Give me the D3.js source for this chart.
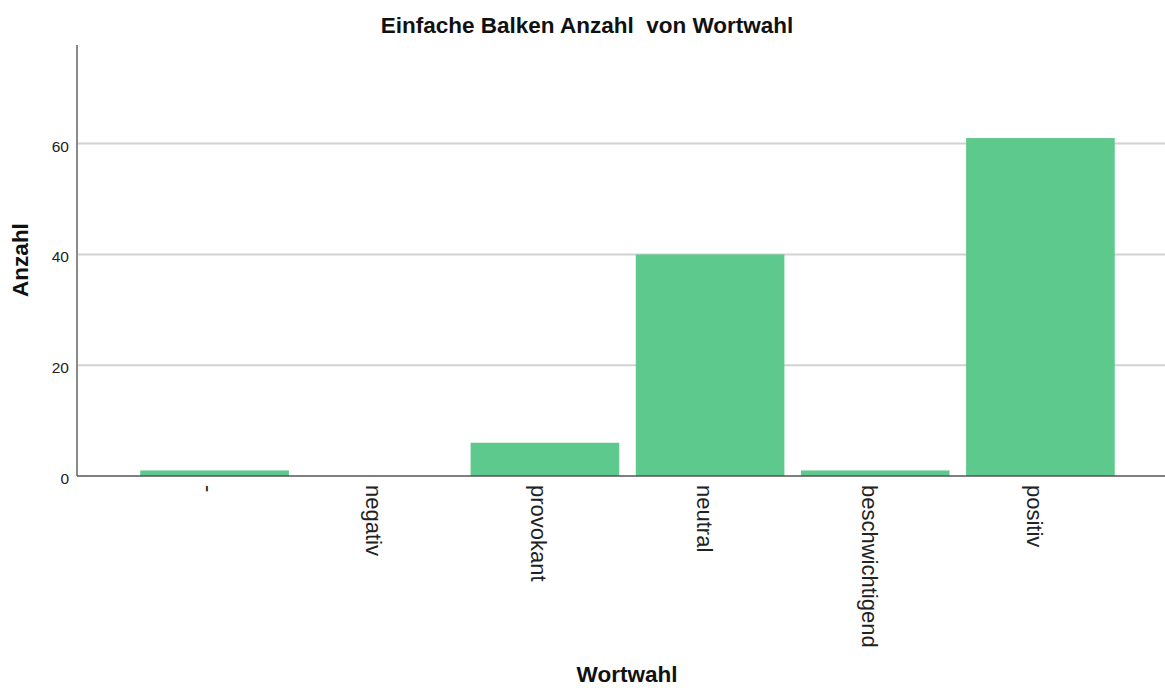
<!DOCTYPE html>
<html lang="de">
<head>
<meta charset="utf-8">
<title>Einfache Balken Anzahl von Wortwahl</title>
<script src="https://d3js.org/d3.v7.min.js"></script>
<style>
  body { margin: 0; background: #fff; font-family: "Liberation Sans", Arial, sans-serif; }
  .grid line { stroke: #d2d2d2; stroke-width: 2px; }
  .bar { fill: #5ec98c; }
  .tick-y { font-size: 15.5px; fill: #222; }
  .tick-x { font-size: 22px; fill: #222; }
  .axis-title { font-size: 22.5px; font-weight: bold; fill: #111; }
</style>
</head>
<body>
<svg id="chart" width="1165" height="688"></svg>
<script>
// data
var categories = ["-", "negativ", "provokant", "neutral", "beschwichtigend", "positiv"];
var counts = [1, 0, 6, 40, 1, 61];
var yTicks = [0, 20, 40, 60];

var svg = d3.select("#chart"),
    width = +svg.attr("width"),
    height = +svg.attr("height");

var plotLeft = 77, plotRight = 1165, plotTop = 45, plotBottom = 476;

var x = d3.scaleBand()
    .domain(categories)
    .range([132, 1123])
    .paddingInner(0.1)
    .paddingOuter(0.05);

var y = d3.scaleLinear()
    .domain([0, 77.8])
    .range([plotBottom, plotTop]);

// gridlines
svg.append("g").attr("class", "grid")
  .selectAll("line")
  .data(yTicks.filter(function(d) { return d > 0; }))
  .enter().append("line")
    .attr("x1", plotLeft)
    .attr("x2", plotRight)
    .attr("y1", function(d) { return y(d); })
    .attr("y2", function(d) { return y(d); });

// bars
svg.selectAll(".bar")
  .data(categories)
  .enter().append("rect")
    .attr("class", "bar")
    .attr("x", function(d) { return x(d); })
    .attr("width", x.bandwidth())
    .attr("y", function(d, i) { return y(counts[i]); })
    .attr("height", function(d, i) { return y(0) - y(counts[i]); });

// y axis line + labels
svg.append("line")
  .attr("x1", plotLeft).attr("x2", plotLeft)
  .attr("y1", plotTop).attr("y2", plotBottom)
  .attr("stroke", "#8a8a8a").attr("stroke-width", 2);

svg.selectAll(".tick-y")
  .data(yTicks)
  .enter().append("text")
    .attr("class", "tick-y")
    .attr("x", plotLeft - 8)
    .attr("y", function(d) { return y(d) + 8; })
    .attr("text-anchor", "end")
    .text(function(d) { return d; });

// x axis line
svg.append("line")
  .attr("x1", plotLeft).attr("x2", plotRight)
  .attr("y1", plotBottom).attr("y2", plotBottom)
  .attr("stroke", "#555").attr("stroke-width", 1.5);

// rotated category labels
svg.selectAll(".tick-x")
  .data(categories)
  .enter().append("text")
    .attr("class", "tick-x")
    .attr("transform", function(d) {
      return "translate(" + (x(d) + x.bandwidth() / 2) + "," + (plotBottom + 9) + ")rotate(90)";
    })
    .attr("y", 13.5)
    .attr("text-anchor", "start")
    .text(function(d) { return d; });

// titles
svg.append("text")
  .attr("class", "axis-title")
  .attr("x", 587)
  .attr("y", 33)
  .attr("text-anchor", "middle")
  .text("Einfache Balken Anzahl\u00a0 von Wortwahl");

svg.append("text")
  .attr("class", "axis-title")
  .attr("transform", "translate(28,260)rotate(-90)")
  .attr("text-anchor", "middle")
  .text("Anzahl");

svg.append("text")
  .attr("class", "axis-title")
  .attr("x", 627)
  .attr("y", 682)
  .attr("text-anchor", "middle")
  .text("Wortwahl");
</script>
</body>
</html>
